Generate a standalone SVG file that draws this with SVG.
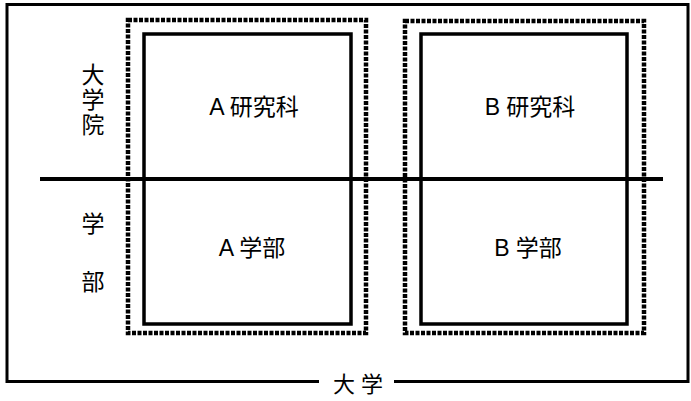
<svg xmlns="http://www.w3.org/2000/svg" width="691" height="401" viewBox="0 0 691 401">
<style>
.t{font-family:"Liberation Sans","Noto Sans CJK JP",sans-serif;font-size:23px;fill:#000;text-anchor:middle}
.solid{fill:none;stroke:#000;stroke-width:3.5}
.dot{fill:none;stroke:#000;stroke-width:4.5;stroke-dasharray:4 1.5}
.line{fill:none;stroke:#000}
</style>
<rect width="691" height="401" fill="#fff"/>
<g id="university">
<path class="line" stroke-width="3" d="M319 381.5 H7 V4.5 H688 V381.5 H394"/>
<text class="t" x="358" y="392" style="font-size:22px">大 学</text>
</g>
<g id="labels">
<text class="t" x="93" y="83">大</text>
<text class="t" x="93" y="108">学</text>
<text class="t" x="93" y="133">院</text>
<text class="t" x="93" y="232">学</text>
<text class="t" x="93" y="290">部</text>
</g>
<g id="boxA">
<rect class="dot" x="128" y="20" width="238" height="313"/>
<rect class="solid" x="144" y="34" width="207" height="290"/>
<text class="t" x="254" y="115">A 研究科</text>
<text class="t" x="252" y="256">A 学部</text>
</g>
<g id="boxB">
<rect class="dot" x="405" y="21" width="239" height="312"/>
<rect class="solid" x="421" y="34" width="206" height="290"/>
<text class="t" x="530" y="115">B 研究科</text>
<text class="t" x="528" y="256">B 学部</text>
</g>
<g id="connectors">
<line class="line" stroke-width="4" x1="40" y1="179" x2="663" y2="179"/>
</g>
</svg>
